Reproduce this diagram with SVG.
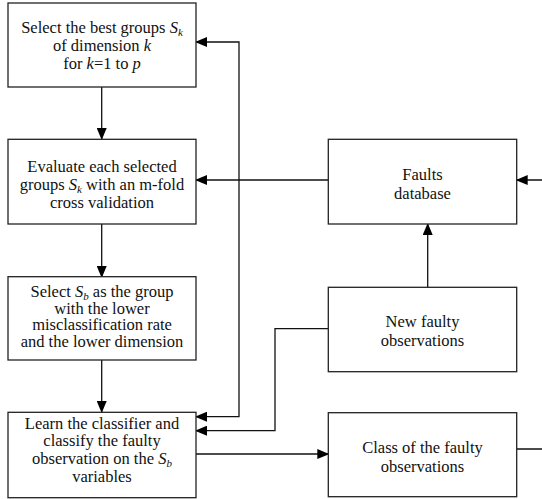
<svg xmlns="http://www.w3.org/2000/svg" width="542" height="499" viewBox="0 0 542 499">
<defs>
<marker id="ah" markerUnits="userSpaceOnUse" markerWidth="12" markerHeight="10" refX="11" refY="5" orient="auto-start-reverse">
<path d="M0,0 L12,5 L0,10 Z" fill="#000"/>
</marker>
<style>
.box{fill:#fff;stroke:#222;stroke-width:1.3}
.t{font-family:"Liberation Serif","Times New Roman",serif;font-size:16.5px;fill:#111;text-anchor:middle}
.i{font-style:italic}
.c{fill:none;stroke:#111;stroke-width:1.3}
</style>
</defs>
<rect width="542" height="499" fill="#fff"/>
<g id="connectors">
<path class="c" d="M101.7,87 V139" marker-end="url(#ah)"/>
<path class="c" d="M101.7,224 V277" marker-end="url(#ah)"/>
<path class="c" d="M101.7,360 V412" marker-end="url(#ah)"/>
<path class="c" d="M328.3,180 H196" marker-end="url(#ah)"/>
<path class="c" d="M196,42 H239 V416.7 H196" marker-start="url(#ah)" marker-end="url(#ah)"/>
<path class="c" d="M328.3,328.7 H275 V430.7 H196" marker-end="url(#ah)"/>
<path class="c" d="M427.7,287.3 V224" marker-end="url(#ah)"/>
<path class="c" d="M196,454 H328.3" marker-end="url(#ah)"/>
<path class="c" d="M516.7,449 H546 V180 H516.7" marker-end="url(#ah)"/>
</g>
<g id="n1">
<rect class="box" x="8" y="3" width="188" height="84"/>
<text class="t" x="102" y="33">Select the best groups <tspan class="i">S</tspan><tspan class="i" font-size="11" dy="3">k</tspan></text>
<text class="t" x="102" y="51">of dimension <tspan class="i">k</tspan></text>
<text class="t" x="102" y="69">for <tspan class="i">k</tspan>=1 to <tspan class="i">p</tspan></text>
</g>
<g id="n2">
<rect class="box" x="8" y="139.3" width="188" height="84.7"/>
<text class="t" x="102" y="171.5">Evaluate each selected</text>
<text class="t" x="102" y="189.5">groups <tspan class="i">S</tspan><tspan class="i" font-size="11" dy="3">k</tspan><tspan dy="-3"> with an m-fold</tspan></text>
<text class="t" x="102" y="207.5">cross validation</text>
</g>
<g id="n3">
<rect class="box" x="8" y="276.7" width="188" height="83.3"/>
<text class="t" x="102" y="297">Select <tspan class="i">S</tspan><tspan class="i" font-size="11" dy="3">b</tspan><tspan dy="-3"> as the group</tspan></text>
<text class="t" x="102" y="313.5">with the lower</text>
<text class="t" x="102" y="330">misclassification rate</text>
<text class="t" x="102" y="346.5">and the lower dimension</text>
</g>
<g id="n4">
<rect class="box" x="8" y="412.3" width="188" height="85.4"/>
<text class="t" x="102" y="428.5">Learn the classifier and</text>
<text class="t" x="102" y="446.3">classify the faulty</text>
<text class="t" x="102" y="464">observation on the <tspan class="i">S</tspan><tspan class="i" font-size="11" dy="3">b</tspan></text>
<text class="t" x="102" y="481.8">variables</text>
</g>
<g id="n5">
<rect class="box" x="328.3" y="139.3" width="188.4" height="84.7"/>
<text class="t" x="422.5" y="179.5">Faults</text>
<text class="t" x="422.5" y="199">database</text>
</g>
<g id="n6">
<rect class="box" x="328.3" y="287.3" width="188.4" height="84.4"/>
<text class="t" x="422.5" y="327">New faulty</text>
<text class="t" x="422.5" y="346">observations</text>
</g>
<g id="n7">
<rect class="box" x="328.3" y="412.7" width="188.4" height="84"/>
<text class="t" x="422.5" y="453">Class of the faulty</text>
<text class="t" x="422.5" y="472">observations</text>
</g>
</svg>
